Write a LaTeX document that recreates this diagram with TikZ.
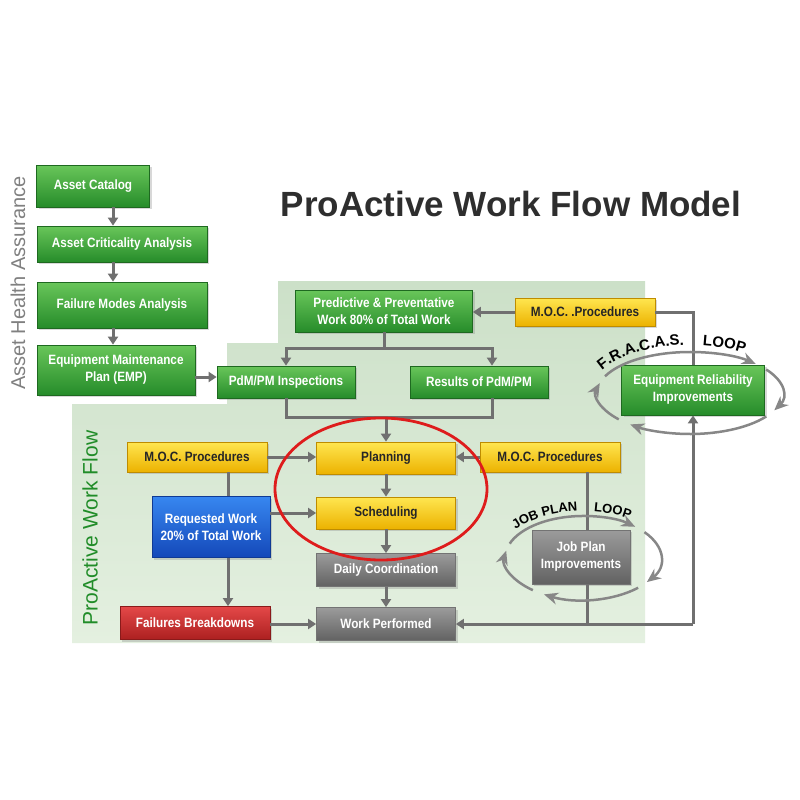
\documentclass[tikz,border=0pt]{standalone}
\usepackage{fontspec}
\setmainfont{Liberation Sans}
\newfontfamily\boxfont{Liberation Sans}[FakeStretch=0.87]
\usetikzlibrary{arrows.meta,shadows,decorations.text}
\definecolor{grntop}{RGB}{105,198,90}
\definecolor{grnbot}{RGB}{38,140,42}
\definecolor{grnedge}{RGB}{30,105,32}
\definecolor{ylwtop}{RGB}{255,230,80}
\definecolor{ylwbot}{RGB}{236,178,0}
\definecolor{ylwedge}{RGB}{190,140,0}
\definecolor{grytop}{RGB}{155,155,155}
\definecolor{grybot}{RGB}{98,98,98}
\definecolor{blutop}{RGB}{55,135,240}
\definecolor{blubot}{RGB}{20,72,185}
\definecolor{redtop}{RGB}{228,72,72}
\definecolor{redbot}{RGB}{172,32,32}
\definecolor{wirecol}{RGB}{112,112,112}
\definecolor{loopcol}{RGB}{135,135,135}
\definecolor{ringred}{RGB}{222,28,28}
\definecolor{bgtop}{RGB}{204,224,200}
\definecolor{bgbot}{RGB}{228,240,224}
\definecolor{flowgreen}{RGB}{32,140,40}
\newcommand\loopfont{\bfseries\fontsize{15}{15}\selectfont}
\newcommand\jobfont{\bfseries\fontsize{13}{13}\selectfont}
\tikzset{
  box/.style={rectangle, inner sep=1pt, align=center, line width=0.8pt,
    font=\boxfont\bfseries\fontsize{13.5}{17}\selectfont,
    drop shadow={opacity=0.3, shadow xshift=2pt, shadow yshift=-2pt}},
  sz/.style 2 args={minimum width=#1pt, minimum height=#2pt},
  greenbox/.style={box, top color=grntop, bottom color=grnbot, draw=grnedge, text=white},
  yellowbox/.style={box, top color=ylwtop, bottom color=ylwbot, draw=ylwedge, text=black!85},
  graybox/.style={box, top color=grytop, bottom color=grybot, draw=black!55, text=white},
  bluebox/.style={box, top color=blutop, bottom color=blubot, draw=blubot!80!black, text=white},
  redbox/.style={box, top color=redtop, bottom color=redbot, draw=redbot!80!black, text=white},
  wire/.style={draw=wirecol, line width=3pt},
  flow/.style={wire, -{Triangle[width=10pt,length=8pt]}},
  loopline/.style={draw=loopcol, line width=2.5pt, -{Stealth[length=14pt,width=12pt]}},
  ring/.style={draw=ringred, line width=2.8pt},
}
\begin{document}
\begin{tikzpicture}[x=1pt,y=-1pt]
\useasboundingbox[fill=white] (0,0) rectangle (800,800);
\shade[top color=bgtop, bottom color=bgbot] (278,281) -- (645,281) -- (645,643) -- (72,643) -- (72,404) -- (227,404) -- (227,343) -- (278,343) -- cycle;

\node[anchor=base, font=\bfseries\fontsize{35}{35}\selectfont, text=black!82] (title) at (511,216) {ProActive Work Flow Model};
\node[rotate=90, font=\fontsize{20}{20}\selectfont, text=black!50] (aha) at (18,283) {Asset Health Assurance};
\node[rotate=90, font=\fontsize{21}{21}\selectfont, text=flowgreen] (pwf) at (90,528) {ProActive Work Flow};

\node[greenbox, sz={113}{42}] (cat) at (93,186) {Asset Catalog};
\node[greenbox, sz={170}{36}] (crit) at (122,244) {Asset Criticality Analysis};
\node[greenbox, sz={170}{46}] (fmea) at (122,305) {Failure Modes Analysis};
\node[greenbox, sz={158}{50}] (emp) at (116,370) {Equipment Maintenance\\Plan (EMP)};
\node[greenbox, sz={177}{42}] (pred) at (384,311) {Predictive \& Preventative\\Work 80\% of Total Work};
\node[yellowbox, sz={140}{28}] (moctop) at (585,312) {M.O.C. .Procedures};
\node[greenbox, sz={138}{32}] (insp) at (286,382) {PdM/PM Inspections};
\node[greenbox, sz={138}{32}] (res) at (479,382) {Results of PdM/PM};
\node[greenbox, sz={143}{50}] (eri) at (693,390) {Equipment Reliability\\Improvements};
\node[yellowbox, sz={140}{30}] (mocl) at (197,457) {M.O.C. Procedures};
\node[yellowbox, sz={139}{32}] (plan) at (386,458) {Planning};
\node[yellowbox, sz={140}{30}] (mocr) at (550,457) {M.O.C. Procedures};
\node[bluebox, sz={118}{61}] (req) at (211,527) {Requested Work\\20\% of Total Work};
\node[yellowbox, sz={139}{32}] (sched) at (386,513) {Scheduling};
\node[graybox, sz={139}{33}] (daily) at (386,570) {Daily Coordination};
\node[redbox, sz={150}{33}] (fail) at (195,623) {Failures Breakdowns};
\node[graybox, sz={139}{33}] (perf) at (386,624) {Work Performed};
\node[graybox, sz={98}{54}] (jpi) at (581,557) {Job Plan\\Improvements};

\coordinate (col) at (113,0);
\draw[flow] (cat.south -| col) -- (crit.north -| col);
\draw[flow] (crit.south -| col) -- (fmea.north -| col);
\draw[flow] (fmea.south -| col) -- (emp.north -| col);
\draw[flow] ([yshift=-7pt]emp.east) -- ([yshift=-7pt]emp.east -| insp.west);
\coordinate (split) at (384,348);
\draw[wire] (pred.south) -- (split);
\draw[flow] (split) -| (insp.north);
\draw[flow] (split) -| ([xshift=13pt]res.north);
\coordinate (merge) at (386,417);
\draw[wire] (insp.south) |- (merge) -| ([xshift=13pt]res.south);
\draw[flow] (merge) -- (plan.north);
\draw[flow] (moctop.west) -- (moctop.west -| pred.east);
\draw[wire] (eri.north) |- (moctop.east);
\draw[flow] (mocl.east) -- (mocl.east -| plan.west);
\draw[flow] (mocr.west) -- (mocr.west -| plan.east);
\coordinate (rl) at (228,0);
\draw[wire] (mocl.south -| rl) -- (req.north -| rl);
\draw[flow] (req.south -| rl) -- (fail.north -| rl);
\draw[flow] (req.east |- sched.west) -- (sched.west);
\draw[flow] (plan.south) -- (sched.north);
\draw[flow] (sched.south) -- (daily.north);
\draw[flow] (daily.south) -- (perf.north);
\draw[flow] (fail.east |- perf.west) -- (perf.west);
\coordinate (jl) at (587,0);
\draw[wire] (mocr.south -| jl) -- (jpi.north -| jl);
\draw[wire] (jpi.south -| jl) -- (perf.east -| jl);
\draw[flow] (eri.south |- perf.east) -- (perf.east);
\draw[flow] (eri.south |- perf.east) -- (eri.south);

\coordinate (fracas) at (690,393);
\foreach \a/\b in {204/315, 325/385, 35/130, 140/194}
  \draw[loopline] (fracas) ++(\a:93 and 41) arc[start angle=\a, end angle=\b, x radius=93, y radius=41];
\path[decorate, decoration={text along path, text align=center, text={|\loopfont|F.R.A.C.A.S.}}]
  (fracas) ++(201:100 and 48) arc[start angle=201, end angle=271, x radius=100, y radius=48];
\path[decorate, decoration={text along path, text align=center, text={|\loopfont|LOOP}}]
  (fracas) ++(273:100 and 48) arc[start angle=273, end angle=308, x radius=100, y radius=48];

\coordinate (jobloop) at (583,558);
\foreach \a/\b in {200/312, 322/395, 45/120, 130/190}
  \draw[loopline] (jobloop) ++(\a:78 and 42) arc[start angle=\a, end angle=\b, x radius=78, y radius=42];
\path[decorate, decoration={text along path, text align=center, text={|\jobfont|JOB PLAN}}]
  (jobloop) ++(213:84 and 47) arc[start angle=213, end angle=269, x radius=84, y radius=47];
\path[decorate, decoration={text along path, text align=center, text={|\jobfont|LOOP}}]
  (jobloop) ++(272:84 and 47) arc[start angle=272, end angle=310, x radius=84, y radius=47];

\draw[ring] (381,489) ellipse [x radius=106, y radius=71];
\end{tikzpicture}
\end{document}
